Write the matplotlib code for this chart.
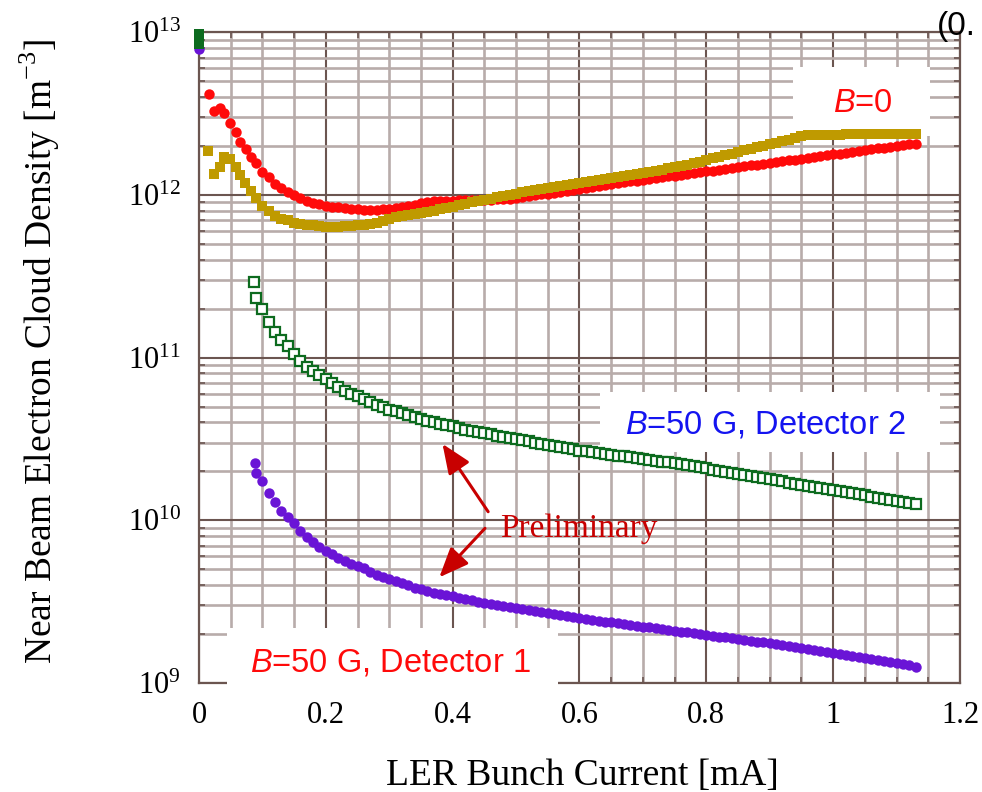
import numpy as np
import matplotlib
matplotlib.use('Agg')
import matplotlib.pyplot as plt
from matplotlib.patches import Rectangle
from matplotlib.ticker import MultipleLocator, LogLocator, NullFormatter, FuncFormatter

plt.rcParams['font.family'] = 'Liberation Serif'
plt.rcParams['mathtext.fontset'] = 'custom'
plt.rcParams['mathtext.rm'] = 'Liberation Serif'
plt.rcParams['mathtext.it'] = 'Liberation Sans:italic'

# bunch current steps [mA] shared by the four scans (after the first few points)
current = [0.09, 0.10, 0.11, 0.12, 0.13, 0.14, 0.15, 0.16, 0.17, 0.18,
           0.19, 0.20, 0.21, 0.22, 0.23, 0.24, 0.25, 0.26, 0.27, 0.28,
           0.29, 0.30, 0.31, 0.32, 0.33, 0.34, 0.35, 0.36, 0.37, 0.38,
           0.39, 0.40, 0.41, 0.42, 0.43, 0.44, 0.45, 0.46, 0.47, 0.48,
           0.49, 0.50, 0.51, 0.52, 0.53, 0.54, 0.55, 0.56, 0.57, 0.58,
           0.59, 0.60, 0.61, 0.62, 0.63, 0.64, 0.65, 0.66, 0.67, 0.68,
           0.69, 0.70, 0.71, 0.72, 0.73, 0.74, 0.75, 0.76, 0.77, 0.78,
           0.79, 0.80, 0.81, 0.82, 0.83, 0.84, 0.85, 0.86, 0.87, 0.88,
           0.89, 0.90, 0.91, 0.92, 0.93, 0.94, 0.95, 0.96, 0.97, 0.98,
           0.99, 1.00, 1.01, 1.02, 1.03, 1.04, 1.05, 1.06, 1.07, 1.08,
           1.09, 1.10, 1.11, 1.12, 1.13]

# all densities as log10 [m^-3]
# B=0 (red circles)
red_x0 = [0.016, 0.024, 0.033, 0.040, 0.049, 0.058, 0.065, 0.074, 0.082]
red_y0 = [12.621, 12.518, 12.533, 12.502, 12.444, 12.385, 12.328, 12.281, 12.235]
red_log = [12.195, 12.140, 12.108, 12.070, 12.045, 12.021, 12.000, 11.984, 11.966, 11.953,
           11.945, 11.935, 11.927, 11.924, 11.919, 11.915, 11.912, 11.909, 11.908, 11.908,
           11.911, 11.914, 11.920, 11.926, 11.933, 11.941, 11.948, 11.955, 11.960, 11.962,
           11.964, 11.966, 11.967, 11.968, 11.969, 11.970, 11.971, 11.972, 11.974, 11.976,
           11.978, 11.981, 11.987, 11.993, 11.999, 12.004, 12.009, 12.014, 12.019, 12.024,
           12.030, 12.036, 12.043, 12.050, 12.058, 12.062, 12.067, 12.072, 12.078, 12.083,
           12.088, 12.093, 12.098, 12.104, 12.109, 12.114, 12.119, 12.124, 12.130, 12.135,
           12.140, 12.145, 12.150, 12.156, 12.161, 12.166, 12.171, 12.176, 12.182, 12.187,
           12.192, 12.197, 12.202, 12.208, 12.213, 12.218, 12.223, 12.229, 12.234, 12.239,
           12.244, 12.249, 12.255, 12.260, 12.265, 12.270, 12.276, 12.281, 12.286, 12.291,
           12.296, 12.302, 12.307, 12.312, 12.316]

# B=0, second scan (gold squares)
gold_x0 = [0.015, 0.024, 0.033, 0.039, 0.049, 0.058, 0.065, 0.073, 0.082]
gold_y0 = [12.272, 12.129, 12.174, 12.232, 12.219, 12.174, 12.123, 12.072, 12.025]
gold_log = [11.979, 11.930, 11.899, 11.872, 11.855, 11.845, 11.830, 11.822, 11.817, 11.813,
            11.809, 11.806, 11.805, 11.806, 11.808, 11.810, 11.814, 11.818, 11.823, 11.830,
            11.840, 11.851, 11.862, 11.872, 11.878, 11.884, 11.890, 11.896, 11.903, 11.911,
            11.919, 11.928, 11.937, 11.946, 11.955, 11.963, 11.970, 11.978, 11.986, 11.993,
            12.001, 12.008, 12.016, 12.023, 12.029, 12.035, 12.041, 12.047, 12.053, 12.059,
            12.065, 12.071, 12.078, 12.086, 12.094, 12.100, 12.106, 12.112, 12.118, 12.123,
            12.129, 12.135, 12.142, 12.149, 12.156, 12.163, 12.169, 12.176, 12.186, 12.195,
            12.205, 12.215, 12.225, 12.235, 12.245, 12.255, 12.265, 12.275, 12.285, 12.294,
            12.304, 12.313, 12.322, 12.332, 12.341, 12.350, 12.360, 12.368, 12.369, 12.370,
            12.370, 12.371, 12.371, 12.372, 12.372, 12.372, 12.373, 12.373, 12.373, 12.374,
            12.374, 12.374, 12.375, 12.375, 12.375]

# B=50 G, detector 2 (green open squares); the x=0 readings are piled up
green_zero = [12.99, 12.97, 12.95, 12.93]
green_x0 = [0.087]
green_y0 = [11.467]
green_log = [11.365, 11.300, 11.220, 11.160, 11.110, 11.070, 11.020, 10.980, 10.940, 10.918,
             10.892, 10.868, 10.844, 10.822, 10.797, 10.777, 10.763, 10.745, 10.728, 10.712,
             10.696, 10.681, 10.670, 10.659, 10.649, 10.636, 10.623, 10.613, 10.603, 10.593,
             10.586, 10.578, 10.568, 10.558, 10.549, 10.541, 10.535, 10.528, 10.520, 10.513,
             10.506, 10.499, 10.492, 10.485, 10.478, 10.471, 10.464, 10.457, 10.450, 10.443,
             10.436, 10.429, 10.424, 10.419, 10.414, 10.409, 10.403, 10.398, 10.393, 10.388,
             10.383, 10.377, 10.372, 10.366, 10.361, 10.356, 10.350, 10.345, 10.338, 10.332,
             10.325, 10.319, 10.312, 10.305, 10.299, 10.292, 10.286, 10.279, 10.272, 10.266,
             10.259, 10.252, 10.246, 10.239, 10.232, 10.226, 10.219, 10.213, 10.206, 10.199,
             10.193, 10.186, 10.179, 10.173, 10.166, 10.160, 10.153, 10.146, 10.140, 10.133,
             10.126, 10.120, 10.113, 10.107, 10.100]

# B=50 G, detector 1 (purple circles)
purple_x0 = [0.0, 0.088]
purple_y0 = [12.90, 10.351]
purple_log = [10.290, 10.240, 10.168, 10.114, 10.060, 10.023, 9.982, 9.934, 9.900, 9.868,
              9.839, 9.812, 9.791, 9.770, 9.749, 9.731, 9.717, 9.704, 9.685, 9.667,
              9.650, 9.640, 9.629, 9.616, 9.602, 9.587, 9.576, 9.566, 9.556, 9.548,
              9.540, 9.532, 9.525, 9.517, 9.509, 9.501, 9.493, 9.485, 9.477, 9.471,
              9.465, 9.459, 9.453, 9.447, 9.441, 9.435, 9.429, 9.423, 9.417, 9.411,
              9.405, 9.399, 9.394, 9.388, 9.383, 9.378, 9.373, 9.368, 9.362, 9.357,
              9.352, 9.347, 9.342, 9.336, 9.331, 9.326, 9.321, 9.316, 9.311, 9.306,
              9.301, 9.296, 9.290, 9.285, 9.280, 9.275, 9.270, 9.265, 9.260, 9.255,
              9.250, 9.244, 9.239, 9.234, 9.228, 9.222, 9.216, 9.211, 9.205, 9.199,
              9.193, 9.187, 9.181, 9.174, 9.167, 9.161, 9.154, 9.148, 9.141, 9.134,
              9.128, 9.121, 9.115, 9.108, 9.101]

brown = '#6b5550'
lightgrid = '#b8acaa'
green = '#0d6b1f'

fig = plt.figure(figsize=(9.82, 7.92), dpi=100)
ax = fig.add_axes([0.2026, 0.1376, 0.775, 0.8216])
ax.set_yscale('log')

ax.plot(np.r_[purple_x0, current], 10**np.r_[purple_y0, purple_log], 'o', color='#6a14d6',
        ms=7.5, mew=0, zorder=3, clip_on=False)
ax.plot([0.0] * len(green_zero), 10**np.array(green_zero), 's', color=green,
        ms=6.8, mew=0, zorder=3, clip_on=False)
ax.plot(np.r_[green_x0, current], 10**np.r_[green_y0, green_log], 's', mfc='white', mec=green,
        ms=6.5, mew=1.6, zorder=3, clip_on=False)
ax.plot(np.r_[red_x0, current], 10**np.r_[red_y0, red_log], 'o', color='#ff0a0a',
        ms=7.5, mew=0, zorder=3, clip_on=False)
ax.plot(np.r_[gold_x0, current], 10**np.r_[gold_y0, gold_log], 's', color='#bf9a00',
        ms=7.0, mew=0, zorder=3, clip_on=False)

ax.set_xlim(0, 1.2)
ax.set_ylim(1e9, 1e13)
ax.xaxis.set_major_locator(MultipleLocator(0.2))
ax.xaxis.set_minor_locator(MultipleLocator(0.05))
ax.xaxis.set_major_formatter(FuncFormatter(lambda v, p: '%g' % round(v, 2)))
ax.yaxis.set_major_locator(LogLocator(base=10, numticks=10))
ax.yaxis.set_minor_locator(LogLocator(base=10, subs=np.arange(2, 10), numticks=20))
ax.yaxis.set_minor_formatter(NullFormatter())
ax.yaxis.set_major_formatter(FuncFormatter(lambda v, p: r'$\mathrm{10^{%d}}$' % round(np.log10(v))))

ax.set_axisbelow(True)
ax.grid(which='major', color=brown, lw=1.5)
ax.grid(which='minor', color=lightgrid, lw=1.9)
for s in ax.spines.values():
    s.set_color(brown)
    s.set_linewidth(1.6)
ax.tick_params(which='both', direction='in', top=True, right=True, color=brown,
               length=4.5, width=1.2, labelsize=22, pad=13)

# white boxes behind the labels
for x0, y0, w, h in [(0.781, 0.8406, 0.180, 0.106),
                     (0.527, 0.355, 0.447, 0.092),
                     (0.0368, -0.0077, 0.435, 0.0922)]:
    ax.add_patch(Rectangle((x0, y0), w, h, transform=ax.transAxes, facecolor='white',
                           edgecolor='none', zorder=2.7, clip_on=False))

ax.text(0.872, 0.878, r'$\mathit{B}$=0', transform=ax.transAxes, ha='center', va='baseline',
        fontsize=23.5, family='Liberation Sans', color='#ff0a0a', zorder=5)
ax.text(0.744, 0.384, r'$\mathit{B}$=50 G, Detector 2', transform=ax.transAxes, ha='center',
        va='baseline', fontsize=23.5, family='Liberation Sans', color='#1414f0', zorder=5)
ax.text(0.251, 0.0184, r'$\mathit{B}$=50 G, Detector 1', transform=ax.transAxes, ha='center',
        va='baseline', fontsize=23.5, family='Liberation Sans', color='#ff0a0a', zorder=5)

ax.text(0.3955, 0.2244, 'Preliminary', transform=ax.transAxes, ha='left', va='baseline',
        fontsize=24, color='#c80000', zorder=5)
arrow = dict(arrowstyle='-|>,head_length=0.72,head_width=0.3', color='#c80000', lw=2.2,
             mutation_scale=25, shrinkA=0, shrinkB=0)
ax.annotate('', xy=(0.384, 10**10.470), xytext=(0.456, 10**10.053), arrowprops=arrow, zorder=5)
ax.annotate('', xy=(0.379, 10**9.650), xytext=(0.451, 10**9.951), arrowprops=arrow, zorder=5)

fig.text(40 / 982, 0.556, r'Near Beam Electron Cloud Density [m$^{\mathrm{-3}}$]',
         rotation=90, ha='center', va='center', fontsize=27)
fig.text(0.593, 0.0088, 'LER Bunch Current [mA]', ha='center', va='baseline', fontsize=27)
fig.text(937 / 982, 1 - 35 / 792, '(0.', ha='left', va='baseline', fontsize=24,
         family='Liberation Sans')

fig.savefig('out.png', dpi=100)
